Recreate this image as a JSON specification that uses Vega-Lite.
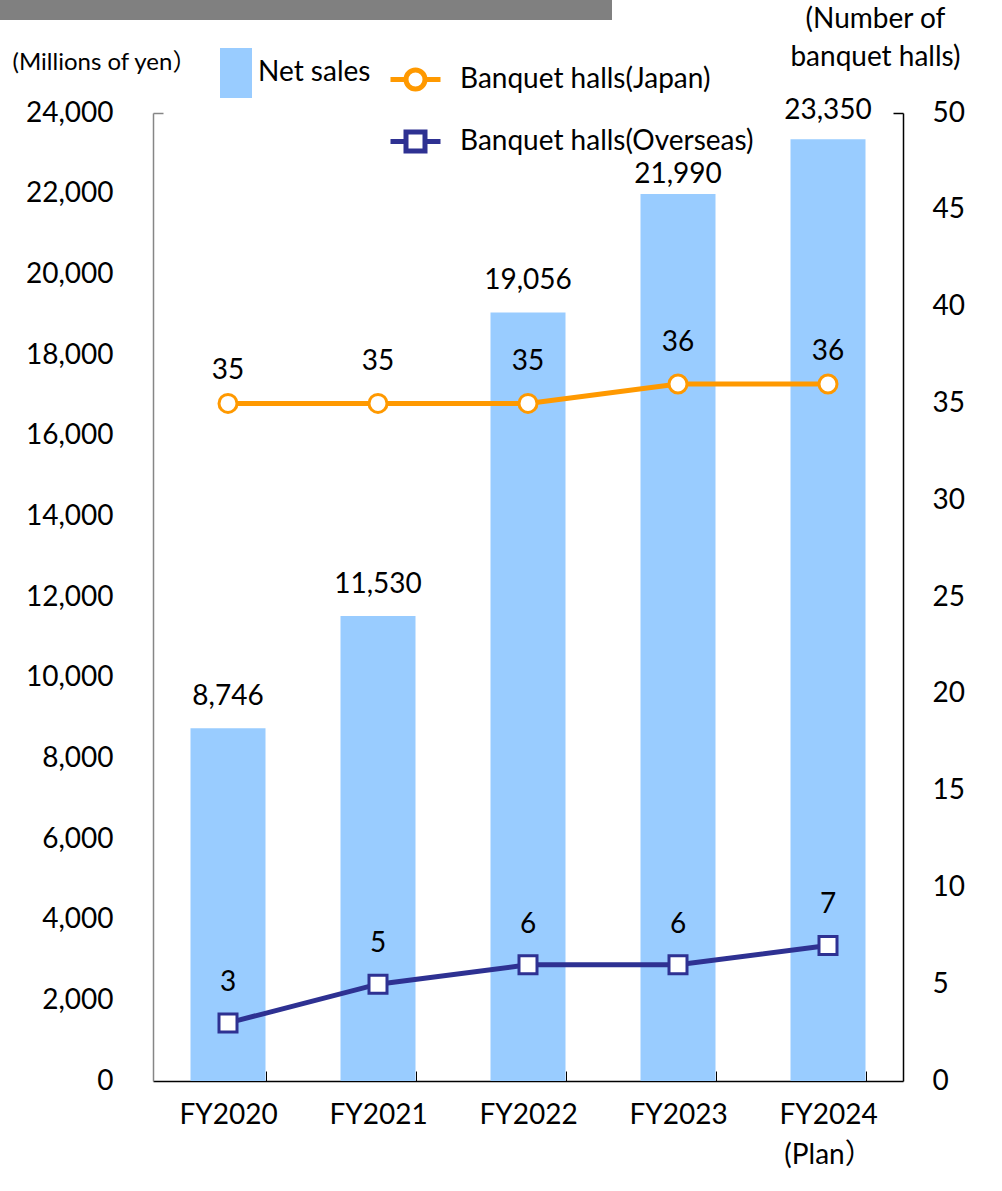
{
  "$schema": "https://vega.github.io/schema/vega-lite/v6.json",
  "width": 750,
  "height": 968,
  "autosize": {"type": "none"},
  "padding": {"left": 153, "top": 113, "right": 99, "bottom": 110},
  "background": "white",
  "config": {
    "view": {"stroke": null},
    "font": "Lato, Noto Sans CJK JP",
    "axis": {"labelColor": "black", "titleColor": "black", "titleFontWeight": "normal", "grid": false},
    "legend": {"labelColor": "black", "labelLimit": 0}
  },
  "datasets": {
    "sales": [
      {"year": "FY2020", "sales": 8746},
      {"year": "FY2021", "sales": 11530},
      {"year": "FY2022", "sales": 19056},
      {"year": "FY2023", "sales": 21990},
      {"year": "FY2024 (Plan）", "sales": 23350}
    ],
    "halls": [
      {"year": "FY2020", "series": "Banquet halls(Japan)", "halls": 35},
      {"year": "FY2021", "series": "Banquet halls(Japan)", "halls": 35},
      {"year": "FY2022", "series": "Banquet halls(Japan)", "halls": 35},
      {"year": "FY2023", "series": "Banquet halls(Japan)", "halls": 36},
      {"year": "FY2024 (Plan）", "series": "Banquet halls(Japan)", "halls": 36},
      {"year": "FY2020", "series": "Banquet halls(Overseas)", "halls": 3},
      {"year": "FY2021", "series": "Banquet halls(Overseas)", "halls": 5},
      {"year": "FY2022", "series": "Banquet halls(Overseas)", "halls": 6},
      {"year": "FY2023", "series": "Banquet halls(Overseas)", "halls": 6},
      {"year": "FY2024 (Plan）", "series": "Banquet halls(Overseas)", "halls": 7}
    ]
  },
  "layer": [
    {
      "data": {"name": "sales"},
      "layer": [
        {
          "mark": {"type": "bar"},
          "encoding": {
            "x": {
              "field": "year", "type": "nominal", "sort": null,
              "scale": {"domain": ["FY2020", "FY2021", "FY2022", "FY2023", "FY2024 (Plan）"], "paddingInner": 0.5, "paddingOuter": 0.25},
              "axis": {
                "title": null, "domainColor": "black", "domainWidth": 1.5,
                "tickBand": "extent", "tickSize": -10, "tickColor": "black", "tickWidth": 1,
                "labelFontSize": 28, "labelPadding": 30, "labelAngle": 0,
                "labelBaseline": "top", "labelLineHeight": 40,
                "labelExpr": "split(datum.label, ' ')"
              }
            },
            "y": {
              "field": "sales", "type": "quantitative",
              "scale": {"domain": [0, 24000], "nice": false},
              "axis": {
                "title": "(Millions of yen）", "titleAngle": 0, "titleAlign": "center", "titleBaseline": "alphabetic",
                "titleX": -49, "titleY": -44, "titleFontSize": 24,
                "values": [0, 2000, 4000, 6000, 8000, 10000, 12000, 14000, 16000, 18000, 20000, 22000, 24000],
                "format": ",d", "labelFontSize": 28, "labelPadding": 50,
                "domainColor": "#868686", "domainWidth": 1.5,
                "tickSize": -10, "tickColor": "#868686", "tickWidth": 1.5,
                "tickOpacity": {"condition": {"test": "datum.value === 24000", "value": 1}, "value": 0}
              }
            },
            "fill": {
              "datum": "Net sales",
              "scale": {"range": ["#99CCFF"]},
              "legend": {
                "title": null, "orient": "none", "legendX": 67, "legendY": -56, "padding": 0,
                "symbolType": "M-1,-1.56H1V1.56H-1Z", "symbolSize": 1024, "symbolStrokeWidth": 0,
                "labelFontSize": 28, "labelOffset": 6
              }
            }
          }
        },
        {
          "transform": [{"filter": {"field": "year", "oneOf": ["FY2020", "FY2021", "FY2022"]}}],
          "mark": {"type": "text", "dy": -31, "fontSize": 28, "color": "black"},
          "encoding": {
            "x": {"field": "year", "type": "nominal", "sort": null},
            "y": {"field": "sales", "type": "quantitative"},
            "text": {"field": "sales", "type": "quantitative", "format": ","}
          }
        },
        {
          "transform": [{"filter": {"field": "year", "equal": "FY2023"}}],
          "mark": {"type": "text", "dy": -19, "fontSize": 28, "color": "black"},
          "encoding": {
            "x": {"field": "year", "type": "nominal", "sort": null},
            "y": {"field": "sales", "type": "quantitative"},
            "text": {"field": "sales", "type": "quantitative", "format": ","}
          }
        },
        {
          "transform": [{"filter": {"field": "year", "equal": "FY2024 (Plan）"}}],
          "mark": {"type": "text", "dy": -28, "fontSize": 28, "color": "black"},
          "encoding": {
            "x": {"field": "year", "type": "nominal", "sort": null},
            "y": {"field": "sales", "type": "quantitative"},
            "text": {"field": "sales", "type": "quantitative", "format": ","}
          }
        }
      ]
    },
    {
      "data": {"name": "halls"},
      "layer": [
        {
          "transform": [{"filter": "false"}],
          "mark": {"type": "point", "filled": true, "fill": "white", "opacity": 1, "strokeWidth": 5},
          "encoding": {
            "stroke": {
              "field": "series", "type": "nominal",
              "scale": {"domain": ["Banquet halls(Japan)", "Banquet halls(Overseas)"], "range": ["#FF9900", "#2E3192"]},
              "legend": {
                "title": null, "orient": "none", "legendX": 235, "legendY": -61, "padding": 0,
                "symbolSize": 2500, "symbolStrokeWidth": 5, "symbolFillColor": "white",
                "labelFontSize": 28, "labelOffset": 17, "rowPadding": 15
              }
            },
            "shape": {
              "field": "series", "type": "nominal",
              "scale": {
                "domain": ["Banquet halls(Japan)", "Banquet halls(Overseas)"],
                "range": [
                  "M-1,0H-0.38M0.38,0H1M0.38,0A0.38,0.38,0,1,1,-0.38,0A0.38,0.38,0,1,1,0.38,0Z",
                  "M-1,0H-0.38M0.38,0H1M-0.38,-0.38H0.38V0.38H-0.38Z"
                ]
              },
              "legend": {
                "title": null, "orient": "none", "legendX": 235, "legendY": -61, "padding": 0,
                "symbolSize": 2500, "symbolStrokeWidth": 5, "symbolFillColor": "white",
                "labelFontSize": 28, "labelOffset": 17, "rowPadding": 15
              }
            }
          }
        },
        {
          "mark": {"type": "line", "strokeWidth": 5},
          "encoding": {
            "x": {"field": "year", "type": "nominal", "sort": null},
            "y": {
              "field": "halls", "type": "quantitative",
              "scale": {"domain": [0, 50], "nice": false},
              "axis": {
                "orient": "right",
                "title": ["(Number of", "banquet halls)"], "titleAngle": 0, "titleAlign": "center", "titleBaseline": "alphabetic",
                "titleX": -28, "titleY": -86, "titleFontSize": 28, "titleLineHeight": 38,
                "values": [0, 5, 10, 15, 20, 25, 30, 35, 40, 45, 50],
                "labelFontSize": 28, "labelPadding": 39,
                "domainColor": "black", "domainWidth": 1.5,
                "tickSize": -10, "tickColor": "black", "tickWidth": 1.5,
                "tickOpacity": {"condition": {"test": "datum.value === 50", "value": 1}, "value": 0}
              }
            },
            "stroke": {"field": "series", "type": "nominal"}
          }
        },
        {
          "transform": [{"filter": "datum.series === 'Banquet halls(Japan)'"}],
          "mark": {"type": "point", "shape": "circle", "filled": true, "fill": "white", "opacity": 1, "strokeWidth": 3, "size": 324},
          "encoding": {
            "x": {"field": "year", "type": "nominal", "sort": null},
            "y": {"field": "halls", "type": "quantitative"},
            "stroke": {"field": "series", "type": "nominal"}
          }
        },
        {
          "transform": [{"filter": "datum.series === 'Banquet halls(Overseas)'"}],
          "mark": {"type": "point", "shape": "square", "filled": true, "fill": "white", "opacity": 1, "strokeWidth": 3, "size": 324},
          "encoding": {
            "x": {"field": "year", "type": "nominal", "sort": null},
            "y": {"field": "halls", "type": "quantitative"},
            "stroke": {"field": "series", "type": "nominal"}
          }
        },
        {
          "transform": [{"filter": "datum.series === 'Banquet halls(Overseas)'"}],
          "mark": {"type": "text", "dy": -40, "fontSize": 28, "color": "black"},
          "encoding": {
            "x": {"field": "year", "type": "nominal", "sort": null},
            "y": {"field": "halls", "type": "quantitative"},
            "text": {"field": "halls", "type": "quantitative"}
          }
        },
        {
          "transform": [{"filter": "datum.series === 'Banquet halls(Japan)' && (datum.year === 'FY2020' || datum.year === 'FY2024 (Plan）')"}],
          "mark": {"type": "text", "dy": -32, "fontSize": 28, "color": "black"},
          "encoding": {
            "x": {"field": "year", "type": "nominal", "sort": null},
            "y": {"field": "halls", "type": "quantitative"},
            "text": {"field": "halls", "type": "quantitative"}
          }
        },
        {
          "transform": [{"filter": "datum.series === 'Banquet halls(Japan)' && datum.year !== 'FY2020' && datum.year !== 'FY2024 (Plan）'"}],
          "mark": {"type": "text", "dy": -41, "fontSize": 28, "color": "black"},
          "encoding": {
            "x": {"field": "year", "type": "nominal", "sort": null},
            "y": {"field": "halls", "type": "quantitative"},
            "text": {"field": "halls", "type": "quantitative"}
          }
        },
        {
          "transform": [{"filter": "false"}],
          "mark": {"type": "point", "filled": true, "opacity": 1},
          "encoding": {
            "color": {
              "field": "halls", "type": "quantitative",
              "scale": {"domain": [0, 1], "range": ["#808080", "#808080"]},
              "legend": {
                "title": null, "orient": "none", "legendX": -153, "legendY": -113, "padding": 0,
                "direction": "horizontal", "gradientLength": 612, "gradientThickness": 20,
                "gradientStrokeWidth": 0, "gradientOpacity": 1, "labelOpacity": 0
              }
            }
          }
        }
      ]
    }
  ],
  "resolve": {"scale": {"y": "independent"}}
}
